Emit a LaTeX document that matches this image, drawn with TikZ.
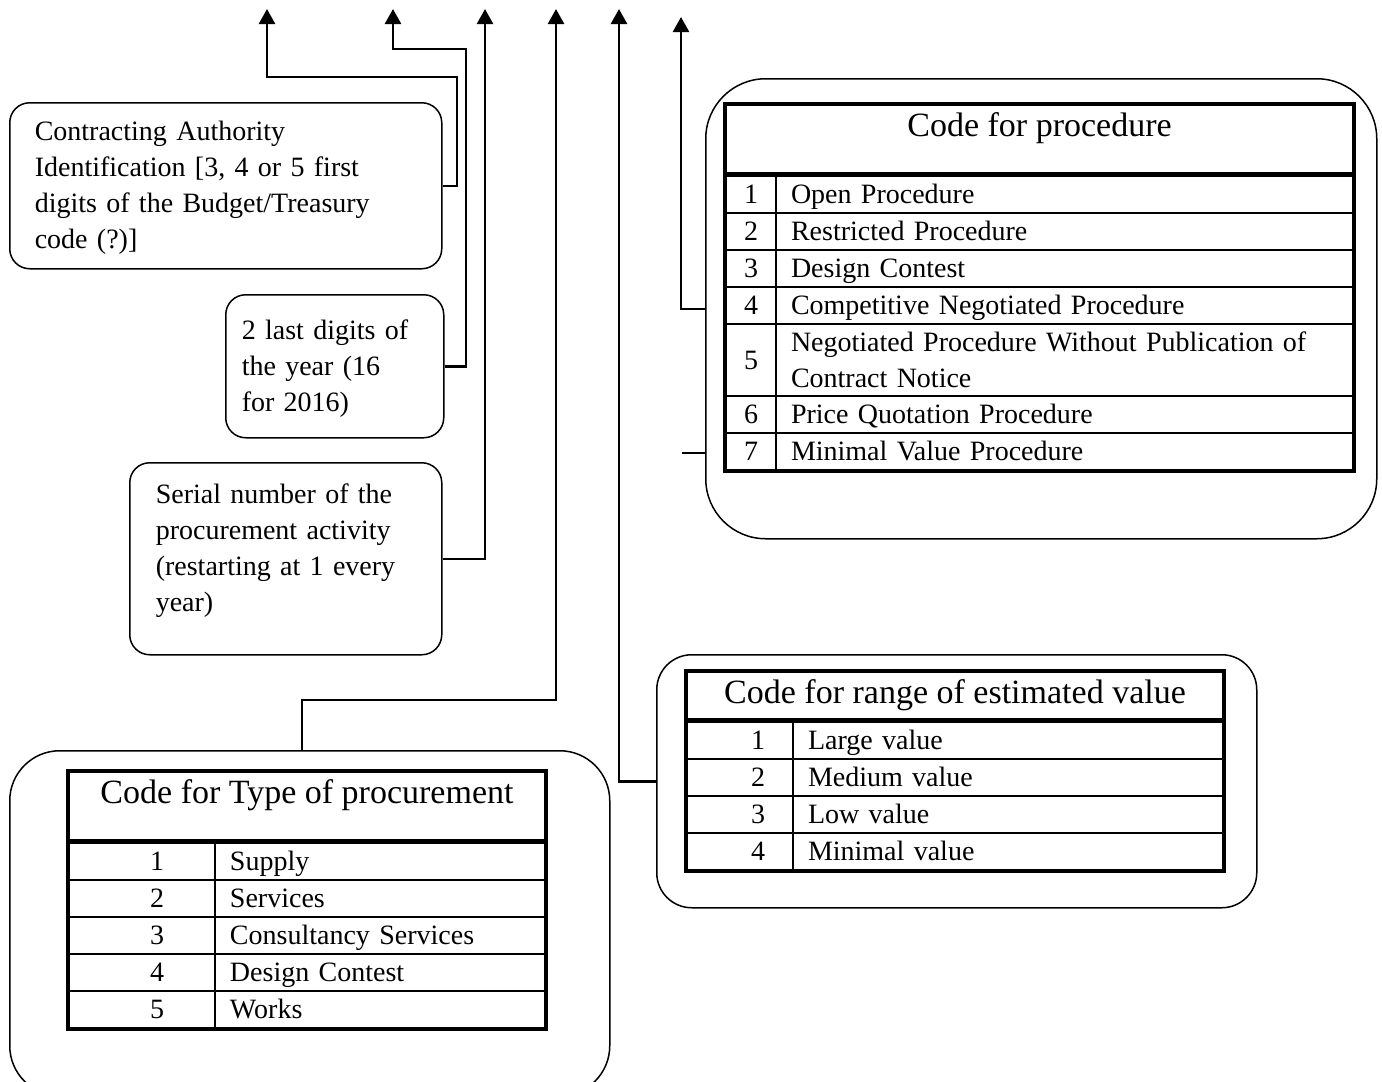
\documentclass[tikz,border=0pt]{standalone}
\usepackage{fontspec}
\setmainfont{Liberation Serif}
\usetikzlibrary{matrix, arrows.meta, positioning}
\newcommand{\rowstrut}{\vrule height 27pt depth 9pt width 0pt}

\begin{document}
\begin{tikzpicture}[x=1pt, y=-1pt,
      font=\fontsize{28}{36}\selectfont,
      link/.style={line width=2.5pt},
      arr/.style={link, -{Triangle[length=15pt, width=16pt]}},
      note/.style={draw, line width=1.5pt, rounded corners=20pt, anchor=north west,
        align=left, inner ysep=0pt,
        execute at begin node=\rowstrut, execute at end node=\rowstrut},
      frame/.style={draw, line width=1.5pt, inner sep=0pt, anchor=north west},
      head/.style={draw, line width=4pt, inner sep=0pt, align=center,
        font=\fontsize{34}{40}\selectfont},
      cell/.style={draw, line width=2pt, inner sep=0pt, outer sep=0pt,
        anchor=center, minimum height=37pt,
        execute at begin node=\rowstrut, execute at end node=\rowstrut},
      lbl/.style={align=left, inner xsep=15pt},
      tab/.style={matrix of nodes, draw, line width=4pt, inner sep=0pt,
        anchor=north west, row sep=-2pt, column sep=-2pt, nodes={cell}}]
  \useasboundingbox (0,0) rectangle (1382,1082);

  \node[note, text width=382pt, inner xsep=25pt, minimum width=432pt, minimum height=166pt] (ca) at (9,102)
    {Contracting Authority\\Identification [3, 4 or 5 first\\digits of the Budget/Treasury\\code (?)]};
  \node[note, text width=186pt, inner xsep=16pt, minimum width=218pt, minimum height=143pt] (yr) at (225,294)
    {2 last digits of\\the year (16\\for 2016)};
  \node[note, text width=260pt, inner xsep=26pt, minimum width=312pt, minimum height=192pt] (sn) at (129,462)
    {Serial number of the\\procurement activity\\(restarting at 1 every\\year)\\[-16pt]\mbox{}};

  \node[frame, minimum width=671pt, minimum height=460pt, rounded corners=60pt] (pr) at (705,78) {};
  \matrix (P) [tab, column 1/.style={nodes={minimum width=50pt}},
      column 2/.style={nodes={lbl, text width=547pt}},
      row 5/.style={nodes={minimum height=72pt}}] at (723,173) {
    1 & Open Procedure \\
    2 & Restricted Procedure \\
    3 & Design Contest \\
    4 & Competitive Negotiated Procedure \\
    5 & Negotiated Procedure Without Publication of\newline Contract Notice \\
    6 & Price Quotation Procedure \\
    7 & Minimal Value Procedure \\
  };
  \node[head, minimum width=629pt, minimum height=70pt, above=-3pt of P] (Ph) {Code for procedure\\[-12pt]\mbox{}};

  \node[frame, minimum width=600pt, minimum height=253pt, rounded corners=35pt] (vl) at (656,654) {};
  \matrix (V) [tab, column 1/.style={nodes={minimum width=106pt, execute at begin node=\rowstrut\hspace*{36pt}}},
      column 2/.style={nodes={lbl, text width=400pt}}] at (684,719) {
    1 & Large value \\
    2 & Medium value \\
    3 & Low value \\
    4 & Minimal value \\
  };
  \node[head, minimum width=538pt, minimum height=49pt, above=-3pt of V] (Vh) {Code for range of estimated value};

  \node[frame, minimum width=600pt, minimum height=345pt, rounded corners=50pt] (tp) at (9,750) {};
  \matrix (T) [tab, column 1/.style={nodes={minimum width=146pt, execute at begin node=\rowstrut\hspace*{30pt}}},
      column 2/.style={nodes={lbl, text width=300pt}}] at (66,840) {
    1 & Supply \\
    2 & Services \\
    3 & Consultancy Services \\
    4 & Design Contest \\
    5 & Works \\
  };
  \node[head, minimum width=478pt, minimum height=70pt, above=-3pt of T] (Th) {Code for Type of procurement\\[-12pt]\mbox{}};

  \coordinate (t1) at (267,9);
  \coordinate (t2) at (393,9);
  \coordinate (t3) at (485,9);
  \coordinate (t4) at (556,9);
  \coordinate (t5) at (619,9);
  \coordinate (t6) at (681,17);
  \coordinate (j4) at (302,700);
  \coordinate (stub) at (682,453);

  \draw[arr] (ca.east) -| (457,77) -| (t1);
  \draw[arr] (yr.east) -| (466,49) -| (t2);
  \draw[arr] (sn.east) -| (t3);
  \draw[arr] (tp.north -| j4) -- (j4) -| (t4);
  \draw[arr] (vl.west) -| (t5);
  \draw[arr] (pr.west) -| (t6);
  \draw[link] (stub) -- (stub -| pr.west);
\end{tikzpicture}
\end{document}
